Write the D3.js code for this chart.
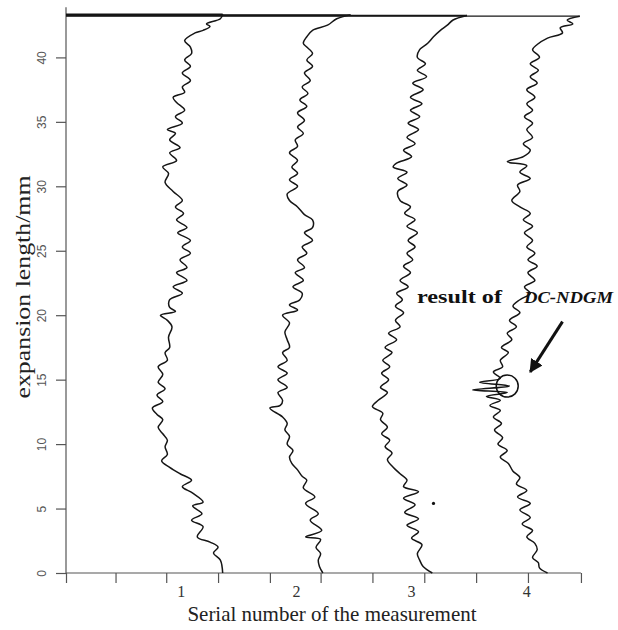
<!DOCTYPE html>
<html>
<head>
<meta charset="utf-8">
<title>expansion length</title>
<script src="https://d3js.org/d3.v7.min.js"></script>
<style>
body { margin: 0; background: #fff; }
</style>
</head>
<body>
<script>
// each trace: [expansion length in mm, position along the measurement axis]
var trace1 = [[0.0,1.36],[1.0,1.34],[1.55,1.28],[2.0,1.32],[2.4,1.25],[2.8,1.14],[3.6,1.19],[4.1,1.09],[4.6,1.18],
  [5.2,1.10],[5.5,1.19],[6.2,1.10],[6.7,1.01],[7.2,1.09],[7.7,0.99],[8.2,0.90],[8.7,0.83],[9.2,0.88],[9.8,0.86],
  [10.3,0.88],[10.8,0.84],[11.3,0.80],[11.9,0.84],[12.3,0.79],[12.8,0.75],[13.3,0.84],[13.8,0.79],[14.3,0.86],
  [14.8,0.80],[15.4,0.84],[16.0,0.80],[16.5,0.88],[17.1,0.86],[17.5,0.90],[18.3,0.89],[19.1,0.92],[19.6,0.88],
  [20.0,0.82],[20.3,0.95],[20.6,0.90],[21.2,0.90],[21.7,1.01],[22.2,0.93],[22.7,1.05],[23.3,0.96],[23.7,1.05],
  [24.3,0.99],[24.8,1.08],[25.3,1.01],[25.8,1.08],[26.4,0.97],[26.8,1.05],[27.4,0.96],[27.9,1.02],[28.4,0.95],
  [28.9,1.01],[29.6,0.93],[30.3,0.86],[31.0,0.89],[31.5,0.84],[32.0,0.96],[32.6,0.90],[33.0,0.99],[33.6,0.90],
  [34.1,0.95],[34.4,0.88],[34.9,1.01],[35.4,0.95],[35.9,1.03],[36.5,0.96],[36.9,0.93],[37.3,1.03],[37.7,1.01],
  [38.2,1.08],[38.8,1.01],[39.3,1.08],[39.8,1.03],[40.3,1.09],[40.8,1.08],[41.3,1.03],[41.9,1.12],[42.1,1.19],
  [42.4,1.25],[42.6,1.22],[43.0,1.34],[43.35,1.36],[43.35,0]];

var trace2 = [[0.0,2.23],[0.5,2.20],[1.0,2.19],[1.5,2.21],[2.0,2.17],[2.6,2.21],[2.8,2.08],[3.3,2.22],[4.1,2.12],
  [4.6,2.19],[5.4,2.08],[5.9,2.16],[6.6,2.06],[7.2,2.09],[7.5,2.05],[8.0,2.01],[8.5,1.96],[9.0,1.94],[9.5,1.97],
  [10.0,1.92],[10.6,1.94],[11.1,1.90],[11.6,1.92],[12.1,1.88],[12.8,1.77],[13.0,1.86],[13.4,1.88],[14.0,1.84],
  [14.4,1.92],[15.0,1.84],[15.5,1.92],[16.0,1.84],[16.5,1.92],[17.1,1.88],[17.5,1.94],[18.1,1.92],[18.7,1.90],
  [19.4,1.94],[20.0,1.88],[20.4,2.01],[20.8,1.94],[21.2,2.03],[21.7,2.05],[22.2,1.97],[22.7,2.06],[23.3,1.99],
  [23.7,2.07],[24.3,2.01],[24.8,2.09],[25.3,2.05],[25.8,2.14],[26.4,2.07],[26.8,2.14],[27.4,2.14],[27.8,2.07],
  [28.4,2.01],[28.9,1.94],[29.4,1.92],[30.0,2.01],[30.5,1.94],[31.0,2.01],[31.5,1.96],[32.0,2.01],[32.6,1.94],
  [33.1,2.01],[33.6,1.99],[34.1,2.06],[34.6,2.01],[35.1,2.07],[35.7,2.01],[36.2,2.09],[36.7,2.03],[37.2,2.10],
  [37.7,2.05],[38.2,2.12],[38.8,2.07],[39.3,2.14],[39.8,2.09],[40.3,2.14],[40.8,2.09],[41.1,2.06],[41.6,2.09],
  [42.1,2.14],[42.5,2.27],[43.0,2.35],[43.3,2.47],[43.3,0]];

var trace3 = [[0.0,3.18],[0.5,3.10],[1.0,3.07],[1.5,3.05],[2.2,3.09],[2.7,3.00],[3.2,3.06],[3.7,2.96],[4.2,3.06],
  [4.7,2.94],[5.3,3.03],[5.8,2.93],[6.3,3.06],[6.7,2.93],[7.2,2.96],[7.7,2.90],[8.2,2.84],[8.8,2.79],[9.3,2.83],
  [9.8,2.77],[10.3,2.81],[10.8,2.74],[11.3,2.79],[11.9,2.73],[12.4,2.75],[12.9,2.66],[13.4,2.71],[14.0,2.79],
  [14.4,2.73],[15.0,2.80],[15.5,2.74],[16.0,2.81],[16.5,2.75],[17.1,2.83],[17.5,2.77],[18.1,2.87],[18.6,2.80],
  [19.1,2.90],[19.6,2.86],[20.2,2.93],[20.7,2.86],[21.2,2.92],[21.7,2.87],[22.2,2.97],[22.7,2.90],[23.3,2.99],
  [23.8,2.93],[24.3,3.01],[24.8,2.96],[25.3,3.03],[25.8,2.97],[26.4,3.05],[26.9,2.96],[27.4,3.03],[27.9,2.94],
  [28.4,2.99],[28.9,2.90],[29.6,2.88],[30.1,2.96],[30.6,2.88],[31.1,2.96],[31.5,2.84],[31.8,2.87],[32.3,3.00],
  [32.8,2.93],[33.3,3.03],[33.8,2.96],[34.4,3.06],[34.9,2.97],[35.4,3.07],[35.9,2.99],[36.4,3.09],[36.9,2.99],
  [37.5,3.10],[38.0,3.01],[38.5,3.13],[39.0,3.05],[39.5,3.12],[40.0,3.05],[40.6,3.07],[41.1,3.14],[41.6,3.19],
  [42.1,3.25],[42.5,3.31],[42.9,3.36],[43.25,3.48],[43.25,0]];

var trace4 = [[0.0,4.18],[0.4,4.11],[0.8,4.10],[1.2,4.05],[1.8,4.09],[2.3,4.07],[2.8,4.00],[3.3,4.05],[3.8,3.96],
  [4.3,4.03],[4.9,3.94],[5.4,4.03],[5.9,3.92],[6.4,4.00],[6.9,3.91],[7.4,3.94],[7.9,3.88],[8.5,3.84],[9.0,3.77],
  [9.5,3.83],[10.0,3.75],[10.5,3.79],[11.1,3.72],[11.6,3.78],[12.1,3.71],[12.6,3.77],[13.0,3.68],[13.4,3.77],
  [13.7,3.65],[14.0,3.83],[14.2,3.53],[14.5,3.85],[14.8,3.59],[15.1,3.77],[15.6,3.71],[16.0,3.79],[16.5,3.77],
  [17.1,3.84],[17.5,3.78],[18.1,3.87],[18.6,3.83],[19.1,3.91],[19.6,3.85],[20.2,3.94],[20.7,3.88],[21.2,3.94],
  [21.7,4.03],[22.2,3.98],[22.7,4.07],[23.3,4.01],[23.8,4.09],[24.3,4.01],[24.8,4.07],[25.3,4.00],[25.8,4.05],
  [26.4,3.98],[26.9,4.05],[27.4,3.97],[27.9,4.03],[28.4,3.94],[28.9,3.87],[29.6,3.94],[30.1,3.92],[30.6,4.03],
  [31.1,3.94],[31.6,4.00],[31.9,3.83],[32.3,3.97],[32.8,4.03],[33.3,3.97],[33.8,4.05],[34.4,4.00],[34.9,4.05],
  [35.4,3.98],[35.9,4.05],[36.4,4.00],[36.9,4.07],[37.5,4.00],[38.0,4.09],[38.5,4.03],[39.0,4.10],[39.5,4.03],
  [40.0,4.11],[40.6,4.05],[41.0,4.09],[41.5,4.18],[41.9,4.31],[42.3,4.29],[42.6,4.40],[42.9,4.35],[43.2,4.46],
  [43.2,0]];

var traces = [trace1, trace2, trace3, trace4];

var yTicks = [0, 5, 10, 15, 20, 25, 30, 35, 40];
var xTicks = [0, 0.43, 0.87, 1.32, 1.77, 2.21, 2.66, 3.11, 3.56, 4.01, 4.47];
var xLabels = [1, 2, 3, 4];

// annotation: [mm, position]
var marked = [14.5, 3.83];
var arrowFrom = [19.5, 4.31];
var arrowTo = [15.6, 4.03];
var stray = [5.4, 3.19];

var width = 618, height = 630;

var x = d3.scaleLinear().domain([0, 1]).range([66, 181.2]);
var y = d3.scaleLinear().domain([0, 40]).range([573, 57.4]);

var svg = d3.select('body').append('svg')
  .attr('width', width)
  .attr('height', height);

svg.append('defs').append('marker')
  .attr('id', 'head')
  .attr('viewBox', '0 0 10 10')
  .attr('refX', 9).attr('refY', 5)
  .attr('markerWidth', 4.5).attr('markerHeight', 4.5)
  .attr('orient', 'auto')
  .append('path')
    .attr('d', 'M0,0 L10,5 L0,10 z')
    .attr('fill', '#111');

var axisColor = '#555';

// y axis
var yAxis = svg.append('g')
  .attr('transform', 'translate(' + x(0) + ',0)')
  .call(d3.axisLeft(y).tickValues(yTicks).tickSize(10).tickSizeOuter(0));
yAxis.select('.domain').remove();
yAxis.selectAll('line').attr('stroke', axisColor).attr('stroke-width', 1.2);
yAxis.selectAll('text')
  .attr('x', null).attr('dy', null)
  .attr('text-anchor', 'middle')
  .attr('transform', 'translate(-20,0) rotate(-90)')
  .attr('fill', axisColor)
  .style('font-family', 'Liberation Sans, Arial, sans-serif')
  .style('font-size', '12px');
svg.append('line')
  .attr('x1', x(0)).attr('x2', x(0))
  .attr('y1', y(0)).attr('y2', y(43.9))
  .attr('stroke', axisColor).attr('stroke-width', 1.2);

// x axis
var xAxis = svg.append('g')
  .attr('transform', 'translate(0,' + y(0) + ')')
  .call(d3.axisBottom(x).tickValues(xTicks).tickSize(10).tickSizeOuter(0).tickFormat(''));
xAxis.select('.domain').remove();
xAxis.selectAll('line').attr('stroke', axisColor).attr('stroke-width', 1.2);
svg.append('line')
  .attr('x1', x(0)).attr('x2', x(xTicks[xTicks.length - 1]))
  .attr('y1', y(0)).attr('y2', y(0))
  .attr('stroke', axisColor).attr('stroke-width', 1.2);

svg.selectAll('text.xlab')
  .data(xLabels)
  .enter().append('text')
    .attr('class', 'xlab')
    .attr('x', function(d) { return x(d); })
    .attr('y', y(0) + 24)
    .attr('text-anchor', 'middle')
    .attr('fill', '#333')
    .style('font-family', 'Liberation Serif, Times New Roman, serif')
    .style('font-size', '16px')
    .text(function(d) { return d; });

// axis titles
svg.append('text')
  .attr('x', 332).attr('y', 621)
  .attr('text-anchor', 'middle')
  .attr('fill', '#222')
  .style('font-family', 'Liberation Serif, Times New Roman, serif')
  .style('font-size', '21px')
  .text('Serial number of the measurement');

svg.append('text')
  .attr('transform', 'translate(30,287) rotate(-90)')
  .attr('text-anchor', 'middle')
  .attr('textLength', 223)
  .attr('lengthAdjust', 'spacingAndGlyphs')
  .attr('fill', '#222')
  .style('font-family', 'Liberation Serif, Times New Roman, serif')
  .style('font-size', '21px')
  .text('expansion length/mm');

// traces: wiggly part smoothed, return stroke to the axis kept straight
var wiggle = d3.line()
  .curve(d3.curveCatmullRom.alpha(0.5))
  .x(function(d) { return x(d[1]); })
  .y(function(d) { return y(d[0]); });
var straight = d3.line()
  .x(function(d) { return x(d[1]); })
  .y(function(d) { return y(d[0]); });

var g = svg.selectAll('g.trace')
  .data(traces)
  .enter().append('g')
    .attr('class', 'trace')
    .attr('fill', 'none')
    .attr('stroke', '#161616')
    .attr('stroke-linejoin', 'round');

g.append('path')
  .attr('d', function(d) { return wiggle(d.slice(0, d.length - 1)); })
  .attr('stroke-width', 1.5);
g.append('path')
  .attr('d', function(d) { return straight(d.slice(d.length - 2)); })
  .attr('stroke-width', 1.4);

// annotation
svg.append('circle')
  .attr('cx', x(marked[1])).attr('cy', y(marked[0]))
  .attr('r', 11)
  .attr('fill', 'none')
  .attr('stroke', '#111')
  .attr('stroke-width', 1.5);

svg.append('line')
  .attr('x1', x(arrowFrom[1])).attr('y1', y(arrowFrom[0]))
  .attr('x2', x(arrowTo[1])).attr('y2', y(arrowTo[0]))
  .attr('stroke', '#111')
  .attr('stroke-width', 3)
  .attr('marker-end', 'url(#head)');

svg.append('circle')
  .attr('cx', x(stray[1])).attr('cy', y(stray[0]))
  .attr('r', 1.6)
  .attr('fill', '#111');

svg.append('text')
  .attr('x', 417).attr('y', 303)
  .attr('textLength', 85)
  .attr('lengthAdjust', 'spacingAndGlyphs')
  .attr('fill', '#111')
  .style('font-family', 'Liberation Serif, Times New Roman, serif')
  .style('font-size', '18px')
  .style('font-weight', 'bold')
  .text('result of');

svg.append('text')
  .attr('x', 524).attr('y', 303)
  .attr('textLength', 89)
  .attr('lengthAdjust', 'spacingAndGlyphs')
  .attr('fill', '#111')
  .style('font-family', 'Liberation Serif, Times New Roman, serif')
  .style('font-size', '16px')
  .style('font-weight', 'bold')
  .style('font-style', 'italic')
  .text('DC-NDGM');
</script>
</body>
</html>
